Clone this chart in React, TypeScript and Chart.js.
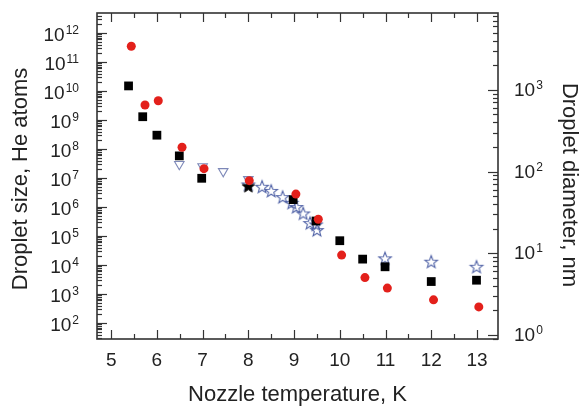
import React, { useEffect, useRef } from 'react';
import { Chart, registerables } from 'chart.js';
Chart.register(...registerables);

// Nozzle temperature (K) and droplet size (He atoms)
const blackT = [5.38, 5.69, 6.0, 6.49, 6.98, 8.98, 9.48, 10.0, 10.5, 10.99, 12.0, 12.99];
const blackN = [1.5e10, 1.3e9, 3.0e8, 5.8e7, 9.8e6, 1.8e6, 3.3e5, 6.9e4, 1.6e4, 8.7e3, 2.7e3, 3.0e3];
const redT = [5.44, 5.74, 6.03, 6.55, 7.03, 8.02, 9.04, 9.53, 10.04, 10.55, 11.04, 12.05, 13.04];
const redN = [3.5e11, 3.3e9, 4.6e9, 1.15e8, 2.1e7, 8.1e6, 2.8e6, 3.8e5, 2.2e4, 3.7e3, 1.6e3, 6.3e2, 3.6e2];
const triT = [6.49, 7.0, 7.45, 8.0];
const triN = [3.0e7, 2.5e7, 1.7e7, 9e6];
const starT = [8.0, 8.3, 8.5, 8.75, 8.95, 9.05, 9.2, 9.35, 9.48, 9.5, 10.99, 12.0, 12.99];
const starN = [6e6, 5e6, 3.6e6, 2.2e6, 1.4e6, 1e6, 6e5, 2.8e5, 2.5e5, 1.6e5, 1.7e4, 1.3e4, 8.7e3];
const blackStarT = [8.0];
const blackStarN = [5.2e6];

const xTicks = [5, 6, 7, 8, 9, 10, 11, 12, 13];
const leftDecades = [2, 3, 4, 5, 6, 7, 8, 9, 10, 11, 12];
const rightDecades = [0, 1, 2, 3];

const X_MIN = 4.69, X_MAX = 13.46;
const Y_MIN = Math.pow(10, 1.45), Y_MAX = Math.pow(10, 12.69);
const Y2_MIN = Math.pow(10, -0.05), Y2_MAX = Math.pow(10, 3.94);

const FONT = '"Liberation Sans", Arial, sans-serif';

function makeStar(fill: string | null, stroke: string, R: number, lw: number) {
  const size = Math.ceil(R * 2 + lw * 2 + 2);
  const c = document.createElement('canvas');
  c.width = size; c.height = size;
  const g = c.getContext('2d')!;
  const cx = size / 2, cy = size / 2 + 0.5;
  const r = R * 0.42;
  g.beginPath();
  for (let i = 0; i < 10; i++) {
    const a = -Math.PI / 2 + (i * Math.PI) / 5;
    const rr = i % 2 === 0 ? R : r;
    const px = cx + rr * Math.cos(a), py = cy + rr * Math.sin(a);
    if (i === 0) g.moveTo(px, py); else g.lineTo(px, py);
  }
  g.closePath();
  if (fill) { g.fillStyle = fill; g.fill(); }
  g.lineJoin = 'miter';
  g.strokeStyle = stroke; g.lineWidth = lw; g.stroke();
  return c;
}

const pts = (xs: number[], ys: number[]) => xs.map((x, i) => ({ x, y: ys[i] }));

export default function App() {
  const ref = useRef<HTMLCanvasElement>(null);
  useEffect(() => {
    const openStar = makeStar(null, '#4f61a6', 6.6, 1.1);
    const filledStar = makeStar('#000', '#000', 6.4, 1);

    const axesPlugin = {
      id: 'axesPlugin',
      afterDraw(chart: any) {
        const ctx = chart.ctx;
        const { left, right, top, bottom } = chart.chartArea;
        const xs = chart.scales.x, ys = chart.scales.y, y2 = chart.scales.y2;
        ctx.save();
        ctx.strokeStyle = '#333';
        ctx.lineWidth = 1.2;
        const line = (x1: number, y1: number, x2: number, y2p: number) => {
          ctx.beginPath(); ctx.moveTo(x1, y1); ctx.lineTo(x2, y2p); ctx.stroke();
        };
        // left ticks
        for (let d = 1; d <= 12; d++) {
          for (let m = 1; m <= 9; m++) {
            const v = m * Math.pow(10, d);
            if (v < ys.min || v > ys.max) continue;
            const py = Math.round(ys.getPixelForValue(v)) + 0.5;
            line(left, py, left + (m === 1 ? 10 : 5), py);
          }
        }
        // right ticks
        for (let d = -1; d <= 3; d++) {
          for (let m = 1; m <= 9; m++) {
            const v = m * Math.pow(10, d);
            if (v < y2.min || v > y2.max) continue;
            const py = Math.round(y2.getPixelForValue(v)) + 0.5;
            line(right, py, right - (m === 1 ? 10 : 5), py);
          }
        }
        // bottom/top ticks
        for (let t = 4.5; t <= 13.5; t += 0.5) {
          if (t < X_MIN || t > X_MAX) continue;
          const px = Math.round(xs.getPixelForValue(t)) + 0.5;
          const major = Math.abs(t - Math.round(t)) < 1e-6;
          const len = major ? 9 : 5;
          line(px, bottom, px, bottom - len);
          line(px, top, px, top + len);
        }
        ctx.lineWidth = 1.6;
        ctx.strokeRect(left, top, right - left, bottom - top);

        ctx.fillStyle = '#222';
        // x tick labels
        ctx.font = `19px ${FONT}`;
        ctx.textAlign = 'center';
        ctx.textBaseline = 'alphabetic';
        xTicks.forEach((t) => {
          ctx.fillText(String(t), xs.getPixelForValue(t), 366);
        });
        // power labels
        const drawPow = (exp: number, py: number, xAnchor: number, alignRight: boolean) => {
          ctx.font = `19px ${FONT}`;
          const w10 = ctx.measureText('10').width;
          ctx.font = `12px ${FONT}`;
          const ws = ctx.measureText(String(exp)).width;
          const x0 = alignRight ? xAnchor - (w10 + 1 + ws) : xAnchor;
          ctx.textAlign = 'left';
          ctx.font = `19px ${FONT}`;
          ctx.fillText('10', x0, py + 8);
          ctx.font = `12px ${FONT}`;
          ctx.fillText(String(exp), x0 + w10 + 1, py + 1);
        };
        leftDecades.forEach((d) => drawPow(d, ys.getPixelForValue(Math.pow(10, d)), 79, true));
        rightDecades.forEach((d) => drawPow(d, y2.getPixelForValue(Math.pow(10, d)) - 2, 514, false));

        // titles
        ctx.font = `22px ${FONT}`;
        ctx.textAlign = 'center';
        ctx.textBaseline = 'middle';
        ctx.fillText('Nozzle temperature, K', (left + right) / 2, 395);
        ctx.save();
        ctx.translate(21, 179);
        ctx.rotate(-Math.PI / 2);
        ctx.fillText('Droplet size, He atoms', 0, 0);
        ctx.restore();
        ctx.save();
        ctx.translate(569, 185);
        ctx.rotate(Math.PI / 2);
        ctx.fillText('Droplet diameter, nm', 0, 0);
        ctx.restore();
        ctx.restore();
      },
    };

    const chart = new Chart(ref.current!, {
      type: 'scatter',
      data: {
        datasets: [
          {
            label: 'red', data: pts(redT, redN), pointStyle: 'circle', pointRadius: 4.5,
            backgroundColor: '#e3201b', borderColor: '#e3201b', borderWidth: 0, yAxisID: 'y',
          },
          {
            label: 'black star', data: pts(blackStarT, blackStarN), pointStyle: filledStar as any,
            pointRadius: 6, yAxisID: 'y',
          },
          {
            label: 'black', data: pts(blackT, blackN), pointStyle: 'rect', pointRadius: 6.2,
            backgroundColor: '#000', borderColor: '#000', borderWidth: 0, yAxisID: 'y',
          },
          {
            label: 'stars', data: pts(starT, starN), pointStyle: openStar as any, pointRadius: 6, yAxisID: 'y',
          },
          {
            label: 'triangles', data: pts(triT, triN), pointStyle: 'triangle', pointRotation: 180,
            pointRadius: 5.5, backgroundColor: 'rgba(255,255,255,0)', borderColor: '#7d88b8', borderWidth: 1.1,
            yAxisID: 'y',
          },
        ] as any,
      },
      options: {
        animation: false,
        responsive: false,
        maintainAspectRatio: false,
        layout: { padding: { left: 97, right: 82, top: 13, bottom: 70 } },
        plugins: { legend: { display: false }, tooltip: { enabled: false } },
        scales: {
          x: { type: 'linear', min: X_MIN, max: X_MAX, display: false },
          y: { type: 'logarithmic', min: Y_MIN, max: Y_MAX, display: false },
          y2: { type: 'logarithmic', min: Y2_MIN, max: Y2_MAX, display: false, position: 'right' },
        },
      } as any,
      plugins: [axesPlugin],
    });
    return () => chart.destroy();
  }, []);

  return (
    <div style={{ position: 'absolute', left: 0, top: 0, width: 580, height: 409, background: '#fff' }}>
      <canvas ref={ref} width={580} height={409} />
    </div>
  );
}
